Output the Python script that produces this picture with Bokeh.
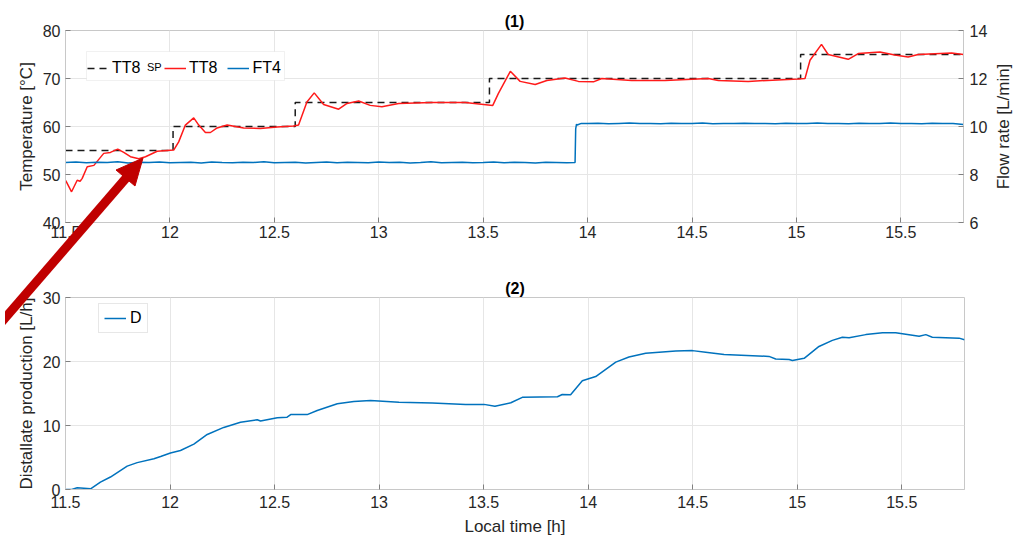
import math
from bokeh.plotting import figure
from bokeh.models import (Range1d, LinearAxis, FixedTicker, Legend, LegendItem, Div,
                          BoxAnnotation)
from bokeh.layouts import column, row
from bokeh.embed import file_html
from bokeh.resources import INLINE

# ---------------- data ----------------
x_ticks = [11.5, 12.0, 12.5, 13.0, 13.5, 14.0, 14.5, 15.0, 15.5]
x_tick_labels = ["11.5", "12", "12.5", "13", "13.5", "14", "14.5", "15", "15.5"]
temp_ticks = [40, 50, 60, 70, 80]
flow_ticks = [6, 8, 10, 12, 14]
dist_ticks = [0, 10, 20, 30]

# TT8 setpoint (step after each time)
sp_t = [11.5, 12.015, 12.60, 13.53, 15.02, 15.8]
sp_v = [55, 60, 65, 70, 75, 75]

# TT8 measured temperature
tt8_t = [11.500, 11.505, 11.529, 11.556, 11.570, 11.580, 11.604, 11.636, 11.683, 11.715,
         11.750, 11.779, 11.811, 11.851, 11.883, 11.939, 12.018, 12.042, 12.074, 12.114,
         12.138, 12.170, 12.194, 12.226, 12.274, 12.353, 12.433, 12.513, 12.592, 12.616,
         12.656, 12.691, 12.736, 12.808, 12.848, 12.904, 12.959, 13.015, 13.095, 13.254,
         13.414, 13.546, 13.573, 13.630, 13.677, 13.749, 13.805, 13.892, 13.956, 14.028,
         14.068, 14.211, 14.371, 14.578, 14.626, 14.769, 15.009, 15.041, 15.065, 15.120,
         15.152, 15.248, 15.296, 15.400, 15.471, 15.535, 15.583, 15.743, 15.800]
tt8_v = [48.8, 48.4, 46.4, 48.8, 48.6, 49.2, 51.6, 51.9, 54.4, 54.6,
         55.3, 54.6, 53.7, 53.3, 53.7, 54.85, 55.1, 56.8, 60.3, 61.8,
         60.3, 58.75, 58.75, 59.7, 60.3, 59.7, 59.6, 59.9, 60.1, 60.3,
         65.1, 67.0, 64.6, 63.6, 64.8, 65.3, 64.4, 64.1, 64.8, 65.0,
         65.0, 64.4, 66.9, 71.5, 69.4, 68.75, 69.6, 70.1, 69.4, 69.3,
         70.0, 69.6, 69.6, 70.0, 69.6, 69.4, 69.9, 70.0, 73.8, 77.1,
         75.0, 74.0, 75.2, 75.5, 74.9, 74.5, 75.0, 75.3, 75.0]

# FT4 flow rate [L/min]
ft4_t = [11.50, 11.55, 11.60, 11.65, 11.70, 11.75, 11.80, 11.85, 11.90, 11.95,
         12.00, 12.05, 12.10, 12.15, 12.20, 12.25, 12.30, 12.35, 12.40, 12.45,
         12.50, 12.55, 12.60, 12.65, 12.70, 12.75, 12.80, 12.85, 12.90, 12.95,
         13.00, 13.05, 13.10, 13.15, 13.20, 13.25, 13.30, 13.35, 13.40, 13.45,
         13.50, 13.55, 13.60, 13.65, 13.70, 13.75, 13.80, 13.85, 13.90, 13.940,
         13.943, 13.947, 13.950, 13.970,
         14.00, 14.05, 14.10, 14.15, 14.20, 14.25, 14.30, 14.35, 14.40, 14.45,
         14.50, 14.55, 14.60, 14.65, 14.70, 14.75, 14.80, 14.85, 14.90, 14.95,
         15.00, 15.05, 15.10, 15.15, 15.20, 15.25, 15.30, 15.35, 15.40, 15.45,
         15.50, 15.55, 15.60, 15.65, 15.70, 15.75, 15.80]
ft4_v = [8.50, 8.52, 8.49, 8.51, 8.50, 8.53, 8.48, 8.51, 8.50, 8.52,
         8.49, 8.50, 8.51, 8.48, 8.52, 8.50, 8.49, 8.51, 8.50, 8.53,
         8.49, 8.50, 8.51, 8.48, 8.50, 8.52, 8.49, 8.51, 8.50, 8.49,
         8.52, 8.50, 8.51, 8.48, 8.50, 8.53, 8.49, 8.50, 8.51, 8.49,
         8.50, 8.52, 8.49, 8.51, 8.50, 8.48, 8.51, 8.50, 8.49, 8.50,
         9.90, 10.10, 10.06, 10.13,
         10.12, 10.14, 10.11, 10.13, 10.15, 10.12, 10.13, 10.11, 10.14, 10.12,
         10.13, 10.15, 10.11, 10.13, 10.12, 10.14, 10.12, 10.13, 10.11, 10.14,
         10.13, 10.12, 10.15, 10.12, 10.13, 10.11, 10.14, 10.12, 10.13, 10.15,
         10.12, 10.13, 10.11, 10.14, 10.12, 10.13, 10.08]

# D distillate production [L/h]
d_t = [11.500, 11.530, 11.556, 11.620, 11.667, 11.715, 11.795, 11.843, 11.923, 11.955,
       12.002, 12.050, 12.114, 12.178, 12.257, 12.337, 12.417, 12.433, 12.513, 12.560,
       12.577, 12.656, 12.704, 12.800, 12.879, 12.959, 13.095, 13.254, 13.414, 13.502,
       13.554, 13.630, 13.685, 13.853, 13.876, 13.916, 13.972, 14.036, 14.132, 14.195,
       14.275, 14.419, 14.499, 14.562, 14.650, 14.865, 14.897, 14.961, 14.977, 15.033,
       15.104, 15.168, 15.216, 15.248, 15.328, 15.408, 15.471, 15.583, 15.615, 15.646,
       15.774, 15.800]
d_v = [0.0, 0.0, 0.26, 0.1, 1.15, 1.95, 3.65, 4.2, 4.8, 5.15,
       5.7, 6.1, 7.1, 8.6, 9.7, 10.5, 10.9, 10.7, 11.2, 11.3,
       11.7, 11.7, 12.35, 13.4, 13.75, 13.9, 13.65, 13.5, 13.3, 13.3,
       13.0, 13.55, 14.4, 14.5, 14.85, 14.8, 17.0, 17.65, 19.9, 20.7,
       21.3, 21.65, 21.7, 21.45, 21.1, 20.8, 20.4, 20.3, 20.15, 20.5,
       22.35, 23.3, 23.8, 23.7, 24.2, 24.5, 24.5, 23.95, 24.2, 23.8,
       23.65, 23.4]

# ---------------- style ----------------
FONT = "Liberation Sans"
TXT = "#262626"
BLUE = "#0072BD"
TRED = "#ff1a1a"
BOX = "#c8c8c8"
GRID = "#e6e6e6"
LEG_BORDER = "#d0d0d0"
W = 1013
W_SIDE = 23


def style_axis(ax, ticks, labels=None):
    ax.ticker = FixedTicker(ticks=ticks)
    if labels is not None:
        ax.major_label_overrides = dict(zip(ticks, labels))
    ax.axis_line_color = BOX
    ax.major_tick_line_color = "#808080"
    ax.major_tick_in = 5
    ax.major_tick_out = 0
    ax.minor_tick_line_color = None
    ax.major_label_text_font = FONT
    ax.major_label_text_font_size = "16px"
    ax.major_label_text_color = TXT
    ax.axis_label_text_font = FONT
    ax.axis_label_text_font_size = "17px"
    ax.axis_label_text_font_style = "normal"
    ax.axis_label_text_color = TXT


def base_fig(width, height, yr, top, bottom, right, title):
    p = figure(width=width, height=height, x_range=Range1d(11.5, 15.8), y_range=yr,
               output_backend="svg", toolbar_location=None,
               min_border_left=65, min_border_right=right,
               min_border_top=top, min_border_bottom=bottom)
    p.title.text = title
    p.title.align = "center"
    p.title.text_font = FONT
    p.title.text_font_size = "16px"
    p.title.text_font_style = "bold"
    p.title.text_color = "#000000"
    p.title.standoff = 2
    p.outline_line_color = BOX
    p.xgrid.grid_line_color = GRID
    p.ygrid.grid_line_color = GRID
    p.background_fill_color = "white"
    p.border_fill_color = "white"
    return p


def legend(items, **kw):
    opts = dict(orientation="horizontal", padding=5, spacing=6, label_standoff=3,
                glyph_width=22, glyph_height=16, label_height=16, label_width=10,
                label_text_font=FONT, label_text_font_size="16px",
                label_text_color="#000000", border_line_color=None,
                background_fill_alpha=0.0)
    opts.update(kw)
    return Legend(items=items, **opts)


# ---------------- plot (1) ----------------
p1 = base_fig(W - W_SIDE, 268, Range1d(40, 80), 30, 46, 26, "(1)")
p1.extra_y_ranges = {"flow": Range1d(6, 14)}
style_axis(p1.xaxis[0], x_ticks, x_tick_labels)
p1.xaxis.major_label_standoff = 3
style_axis(p1.yaxis[0], temp_ticks)
p1.yaxis.axis_label = "Temperature [°C]"
p1.yaxis.major_label_standoff = 5
p1.yaxis.axis_label_standoff = 4

# right axis: ticks + tick labels
ax_r = LinearAxis(y_range_name="flow")
style_axis(ax_r, flow_ticks)
ax_r.major_label_standoff = 6
p1.add_layout(ax_r, "right")

r_sp = p1.step(sp_t, sp_v, mode="after", line_color="#1a1a1a", line_width=1.5, line_dash="7 5")
r_tt8 = p1.line(tt8_t, tt8_v, line_color=TRED, line_width=1.5)
r_ft4 = p1.line(ft4_t, ft4_v, line_color=BLUE, line_width=1.5, y_range_name="flow")

# legend frame (white box with light border) holding the three entries
p1.add_layout(BoxAnnotation(left=21, right=219, bottom=142, top=171,
                            left_units="screen", right_units="screen",
                            bottom_units="screen", top_units="screen",
                            fill_color="white", fill_alpha=1.0,
                            line_color=LEG_BORDER, line_width=1))
p1.add_layout(legend([LegendItem(label="TT8", renderers=[r_sp])],
                     location=(22, 145)), "center")
# subscript "SP" of the set-point entry (label only, no sample glyph)
p1.add_layout(legend([LegendItem(label="SP", renderers=[r_sp])],
                     location=(82, 149), padding=0, spacing=0, margin=0, label_standoff=0,
                     glyph_width=0, glyph_height=11, label_height=11, label_width=0,
                     label_text_font_size="11px"), "center")
p1.add_layout(legend([LegendItem(label="TT8", renderers=[r_tt8]),
                      LegendItem(label="FT4", renderers=[r_ft4])],
                     location=(99, 145), spacing=10), "center")

# narrow side panel carrying the right-hand axis title (reads bottom-to-top)
p_side = figure(width=W_SIDE, height=268, output_backend="svg", toolbar_location=None,
                min_border_left=20, min_border_right=0, min_border_top=30, min_border_bottom=46,
                x_range=Range1d(0, 1), y_range=Range1d(6, 14))
p_side.outline_line_color = None
p_side.grid.grid_line_color = None
p_side.xaxis.visible = False
style_axis(p_side.yaxis[0], [])
p_side.yaxis.axis_line_color = None
p_side.yaxis.major_tick_line_color = None
p_side.yaxis.major_label_standoff = 0
p_side.yaxis.axis_label_standoff = 0
p_side.yaxis.axis_label = "Flow rate [L/min]"
p_side.border_fill_color = "white"

# ---------------- plot (2) ----------------
p2 = base_fig(W, 270, Range1d(0, 30), 29, 49, 49, "(2)")
style_axis(p2.xaxis[0], x_ticks, x_tick_labels)
p2.xaxis.major_label_standoff = 6
p2.xaxis.axis_label = "Local time [h]"
p2.xaxis.axis_label_standoff = 6
style_axis(p2.yaxis[0], dist_ticks)
p2.yaxis.axis_label = "Distallate production [L/h]"
p2.yaxis.major_label_standoff = 5
p2.yaxis.axis_label_standoff = 4

r_d = p2.line(d_t, d_v, line_color=BLUE, line_width=1.5)
p2.add_layout(legend([LegendItem(label="D", renderers=[r_d])],
                     location=(33, 156), spacing=0, label_standoff=4, glyph_height=18,
                     border_line_color=LEG_BORDER, background_fill_color="white",
                     background_fill_alpha=1.0), "center")

# red call-out arrow drawn on top of both panels
arrow_svg = (
    '<svg xmlns="http://www.w3.org/2000/svg" width="160" height="330" viewBox="0 0 160 330">'
    '<line x1="-5" y1="319" x2="122" y2="172" stroke="#c00000" stroke-width="9"/>'
    '<polygon points="138,153 130,181 111,165" fill="#c00000" stroke="#c00000" stroke-width="1"/>'
    '</svg>'
)
overlay = Div(text=arrow_svg, width=160, height=330,
              styles={"position": "absolute", "left": "0px", "top": "0px",
                      "z-index": "10", "pointer-events": "none", "overflow": "visible"})

layout = column(row(p1, p_side), p2, overlay)
open("out.html", "w").write(file_html(layout, INLINE))
